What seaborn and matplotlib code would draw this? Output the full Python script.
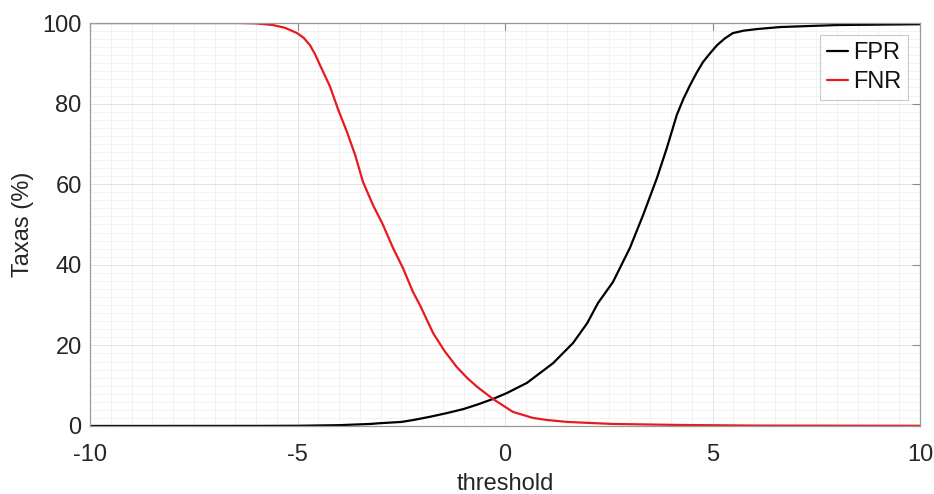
import numpy as np
import pandas as pd
import matplotlib
matplotlib.use("Agg")
import matplotlib.pyplot as plt
import seaborn as sns
from matplotlib.ticker import MultipleLocator

fpr_x = [-10, -6, -5, -4, -3.25, -3, -2.5, -2.2, -1.8, -1.4, -1.0, -0.67, -0.29, 0.05, 0.53,
         1.16, 1.64, 1.98, 2.24, 2.6, 3.01, 3.33, 3.66, 3.9, 4.14, 4.3, 4.46, 4.62, 4.77, 4.95,
         5.11, 5.3, 5.49, 5.75, 6.07, 6.63, 8.0, 10]
fpr_y = [0, 0.02, 0.05, 0.2, 0.5, 0.7, 1.0, 1.5, 2.3, 3.2, 4.2, 5.3, 6.7, 8.2, 10.7,
         15.6, 20.6, 25.5, 30.5, 35.7, 44.2, 52.4, 61.5, 69, 77.2, 81.2, 84.6, 87.7, 90.3, 92.6,
         94.5, 96.2, 97.5, 98.1, 98.5, 99.0, 99.5, 99.7]

fnr_x = [-10, -6.4, -6.0, -5.59, -5.3, -5.01, -4.85, -4.7, -4.58, -4.46, -4.22, -4.02, -3.81,
         -3.61, -3.42, -3.18, -2.94, -2.7, -2.46, -2.22, -2.05, -1.73, -1.45, -1.16, -0.9,
         -0.67, -0.29, 0.19, 0.67, 1.0, 1.5, 2.6, 4.2, 6, 10]
fnr_y = [100, 100, 99.9, 99.5, 98.8, 97.5, 96.3, 94.5, 92.3, 89.6, 84.3, 78.5, 73,
         67.2, 60.5, 54.8, 49.9, 44.2, 39.2, 33.3, 30, 23, 18.5, 14.6, 11.8,
         9.7, 6.7, 3.5, 2, 1.5, 1, 0.5, 0.25, 0.1, 0.05]

series = ["FPR", "FNR"]
colors = ["#000000", "#e8191f"]

df = pd.concat([
    pd.DataFrame({"threshold": fpr_x, "rate": fpr_y, "series": series[0]}),
    pd.DataFrame({"threshold": fnr_x, "rate": fnr_y, "series": series[1]}),
])

sns.set_theme(style="white")
plt.rcParams["font.family"] = ["Liberation Sans", "DejaVu Sans"]
plt.rcParams["axes.unicode_minus"] = False

fig = plt.figure(figsize=(9.34, 4.94), dpi=100)
ax = fig.add_axes([0.0964, 0.1377, 0.8886, 0.8157])

sns.lineplot(data=df, x="threshold", y="rate", hue="series", palette=colors,
             hue_order=series, linewidth=1.6, ax=ax, sort=True, estimator=None)

ax.set_xlim(-10, 10)
ax.set_ylim(0, 100)
ax.xaxis.set_major_locator(MultipleLocator(5))
ax.yaxis.set_major_locator(MultipleLocator(20))
ax.xaxis.set_minor_locator(MultipleLocator(0.5))
ax.yaxis.set_minor_locator(MultipleLocator(2))
ax.grid(which="major", color="#e3e3e3", linewidth=0.7)
ax.grid(which="minor", color="#f1f1f1", linewidth=0.6)
ax.set_axisbelow(True)

txt = "#262626"
ax.tick_params(which="major", direction="in", length=6, width=0.8, color="#8a8a8a",
               labelsize=17, labelcolor=txt, top=True, right=True, pad=6)
ax.tick_params(axis="x", which="major", pad=13)
ax.tick_params(which="minor", length=0)
for s in ax.spines.values():
    s.set_color("#9a9a9a")
    s.set_linewidth(0.9)

ax.set_xlabel("threshold", fontsize=17, color=txt, labelpad=5)
ax.set_ylabel("Taxas (%)", fontsize=17, color=txt, labelpad=6)

leg = ax.legend(loc="upper right", fontsize=17, frameon=True, fancybox=False,
                handlelength=0.9, handletextpad=0.2, borderpad=0.3,
                labelspacing=0.3, borderaxespad=0.5)
leg.get_frame().set_edgecolor("#bdbdbd")
leg.get_frame().set_linewidth(0.8)
for t in leg.get_texts():
    t.set_color("#111111")

fig.savefig("out.png", dpi=100, facecolor="white")
